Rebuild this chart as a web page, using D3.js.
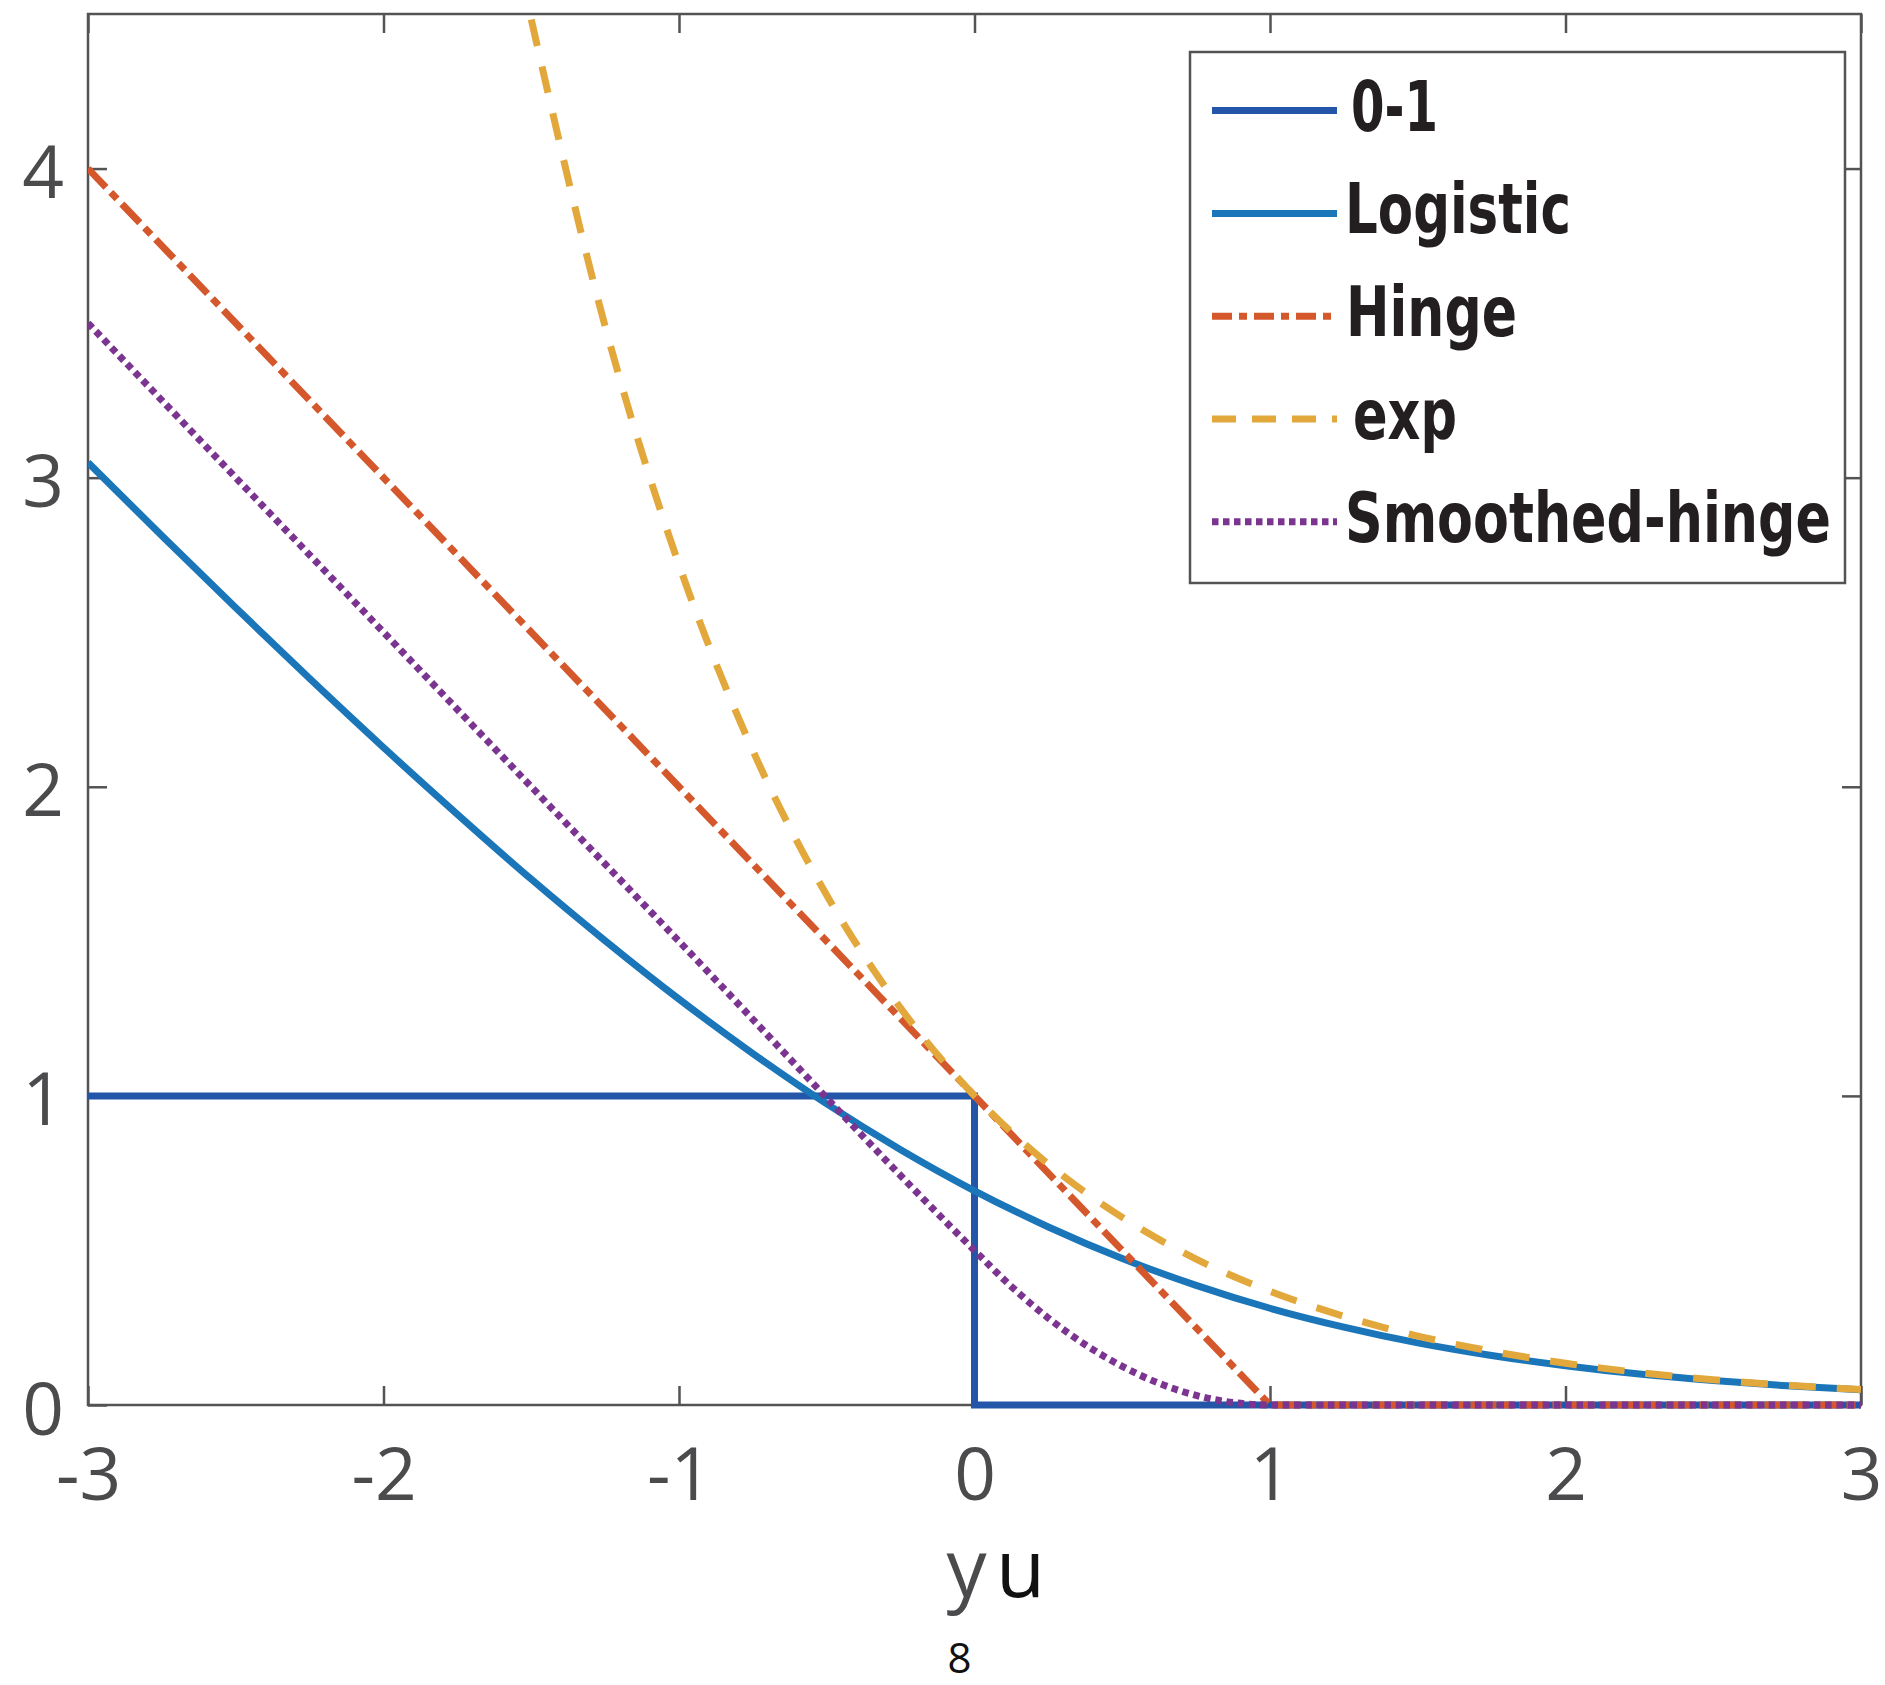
<!DOCTYPE html>
<html>
<head>
<meta charset="utf-8">
<script src="https://cdn.jsdelivr.net/npm/d3@7"></script>
<style>
  html, body { margin: 0; padding: 0; background: #fff; }
  svg { display: block; }
</style>
</head>
<body>
<svg id="chart" width="1885" height="1685"></svg>
<script>
// Loss values sampled along the margin y·u
const gridX = [-3, -2.75, -2.5, -2.25, -2, -1.75, -1.5, -1.25, -1, -0.75, -0.5, -0.25,
               0, 0.25, 0.5, 0.75, 1, 1.25, 1.5, 1.75, 2, 2.25, 2.5, 2.75, 3];

const zeroOneX = [-3, 0, 0, 3];
const zeroOneY = [1, 1, 0, 0];

const logisticY = [3.049, 2.812, 2.579, 2.350, 2.127, 1.911, 1.701, 1.502, 1.313, 1.137, 0.974, 0.826,
                   0.693, 0.576, 0.474, 0.387, 0.313, 0.252, 0.201, 0.160, 0.127, 0.100, 0.079, 0.062, 0.049];

const hingeX = [-3, 1, 3];
const hingeY = [4, 0, 0];

const expX = [-1.5, -1.25, -1, -0.75, -0.5, -0.25, 0, 0.25, 0.5, 0.75, 1, 1.25, 1.5, 1.75, 2, 2.25, 2.5, 2.75, 3];
const expY = [4.482, 3.490, 2.718, 2.117, 1.649, 1.284, 1, 0.779, 0.607, 0.472, 0.368, 0.287, 0.223, 0.174,
              0.135, 0.105, 0.082, 0.064, 0.050];

const smoothX = [-3, -2, -1, 0, 0.125, 0.25, 0.375, 0.5, 0.625, 0.75, 0.875, 1, 2, 3];
const smoothY = [3.5, 2.5, 1.5, 0.5, 0.383, 0.281, 0.195, 0.125, 0.070, 0.031, 0.008, 0, 0, 0];

const xTicks = [-3, -2, -1, 0, 1, 2, 3];
const yTicks = [0, 1, 2, 3, 4];

const seriesNames = ["0-1", "Logistic", "Hinge", "exp", "Smoothed-hinge"];

// Drawing setup
const svg = d3.select("#chart");
const plotL = 88, plotR = 1861, plotT = 14, plotB = 1405;
const x = d3.scaleLinear().domain([-3, 3]).range([plotL, plotR]);
const y = d3.scaleLinear().domain([0, 4.5]).range([plotB, plotT]);
const axisColor = "#535353";
const tickFont = "'Open Sans', 'Noto Sans', sans-serif";
const plainNumber = d => String(d);   // hyphen-minus, as in "-3"

const series = [
  { name: seriesNames[0], xs: zeroOneX, ys: zeroOneY, color: "#2356a8", dash: null, legendDash: null, curve: d3.curveLinear },
  { name: seriesNames[1], xs: gridX, ys: logisticY, color: "#1a75b9", dash: null, legendDash: null, curve: d3.curveMonotoneX },
  { name: seriesNames[2], xs: hingeX, ys: hingeY, color: "#d4582c", dash: "26,7,9,7", legendDash: "20,7,8,7", curve: d3.curveLinear },
  { name: seriesNames[3], xs: expX, ys: expY, color: "#e3a83c", dash: "27,21", legendDash: "24,16", curve: d3.curveMonotoneX },
  { name: seriesNames[4], xs: smoothX, ys: smoothY, color: "#7b3590", dash: "6.5,4.8", legendDash: "6.5,4.5", curve: d3.curveMonotoneX }
];

svg.append("defs").append("clipPath").attr("id", "plotClip")
  .append("rect").attr("x", plotL).attr("y", plotT)
  .attr("width", plotR - plotL).attr("height", plotB - plotT + 20);

// Axes: inward ticks on all four sides
const tickLen = 19;
const gBottom = svg.append("g").attr("transform", `translate(0,${plotB})`)
  .call(d3.axisBottom(x).tickValues(xTicks).tickSizeInner(-tickLen).tickSizeOuter(0).tickFormat(plainNumber));
const gTop = svg.append("g").attr("transform", `translate(0,${plotT})`)
  .call(d3.axisTop(x).tickValues(xTicks).tickSizeInner(-tickLen).tickSizeOuter(0).tickFormat(""));
const gLeft = svg.append("g").attr("transform", `translate(${plotL},0)`)
  .call(d3.axisLeft(y).tickValues(yTicks).tickSizeInner(-tickLen).tickSizeOuter(0).tickFormat(plainNumber));
const gRight = svg.append("g").attr("transform", `translate(${plotR},0)`)
  .call(d3.axisRight(y).tickValues(yTicks).tickSizeInner(-tickLen).tickSizeOuter(0).tickFormat(""));

[gBottom, gTop, gLeft, gRight].forEach(g => {
  g.select(".domain").remove();
  g.selectAll(".tick line").attr("stroke", axisColor).attr("stroke-width", 2.5);
});

gBottom.selectAll(".tick text")
  .attr("y", 95).attr("dy", 0)
  .attr("font-family", tickFont).attr("font-size", 73).attr("fill", "#4b4b4d");
gLeft.selectAll(".tick text")
  .attr("x", -24).attr("dy", 29)
  .attr("font-family", tickFont).attr("font-size", 73).attr("fill", "#4b4b4d");

svg.append("rect")
  .attr("x", plotL).attr("y", plotT)
  .attr("width", plotR - plotL).attr("height", plotB - plotT)
  .attr("fill", "none").attr("stroke", axisColor).attr("stroke-width", 2.5);

// Curves
const plot = svg.append("g").attr("clip-path", "url(#plotClip)");
series.forEach(s => {
  const pts = s.xs.map((v, i) => [v, s.ys[i]]);
  const line = d3.line().x(d => x(d[0])).y(d => y(d[1])).curve(s.curve);
  plot.append("path")
    .attr("d", line(pts))
    .attr("fill", "none")
    .attr("stroke", s.color)
    .attr("stroke-width", 7)
    .attr("stroke-linejoin", "miter")
    .attr("stroke-dasharray", s.dash)
    .attr("stroke-linecap", "butt");
});

// X axis label
const xMid = (plotL + plotR) / 2;
svg.append("text").attr("x", xMid - 8).attr("y", 1597)
  .attr("text-anchor", "middle").attr("font-family", tickFont)
  .attr("font-size", 80).attr("fill", "#4b4b4d").text("y");
svg.append("text").attr("x", xMid + 46).attr("y", 1597)
  .attr("text-anchor", "middle").attr("font-family", tickFont)
  .attr("font-size", 80).attr("fill", "#111").text("u");
svg.append("text").attr("x", xMid - 15).attr("y", 1673)
  .attr("text-anchor", "middle").attr("font-family", tickFont)
  .attr("font-size", 42).attr("fill", "#111").text("8");

// Legend
const legend = svg.append("g");
legend.append("rect")
  .attr("x", 1190).attr("y", 52).attr("width", 655).attr("height", 531)
  .attr("fill", "#fff").attr("stroke", axisColor).attr("stroke-width", 2.5);

// Bold labels squeezed horizontally to a condensed width
const legendWidths = [87, 226, 171, 104, 486];
const legendTextX = [1351, 1345, 1346, 1353, 1345];
series.forEach((s, i) => {
  const ly = 110.6 + i * 102.8;
  legend.append("line")
    .attr("x1", 1212).attr("x2", 1337).attr("y1", ly).attr("y2", ly)
    .attr("stroke", s.color).attr("stroke-width", 7)
    .attr("stroke-dasharray", s.legendDash);
  const g = legend.append("g").attr("transform", `translate(${legendTextX[i]},${ly + 20})`);
  const t = g.append("text")
    .attr("x", 0).attr("y", 0)
    .attr("font-family", "'Liberation Sans Narrow', 'DejaVu Sans Condensed', 'Roboto', sans-serif")
    .attr("font-weight", "bold").attr("font-size", 69).attr("fill", "#231f20")
    .text(s.name);
  const natural = t.node().getComputedTextLength() || legendWidths[i];
  g.attr("transform", `translate(${legendTextX[i]},${ly + 20}) scale(${legendWidths[i] / natural},1)`);
});
</script>
</body>
</html>
